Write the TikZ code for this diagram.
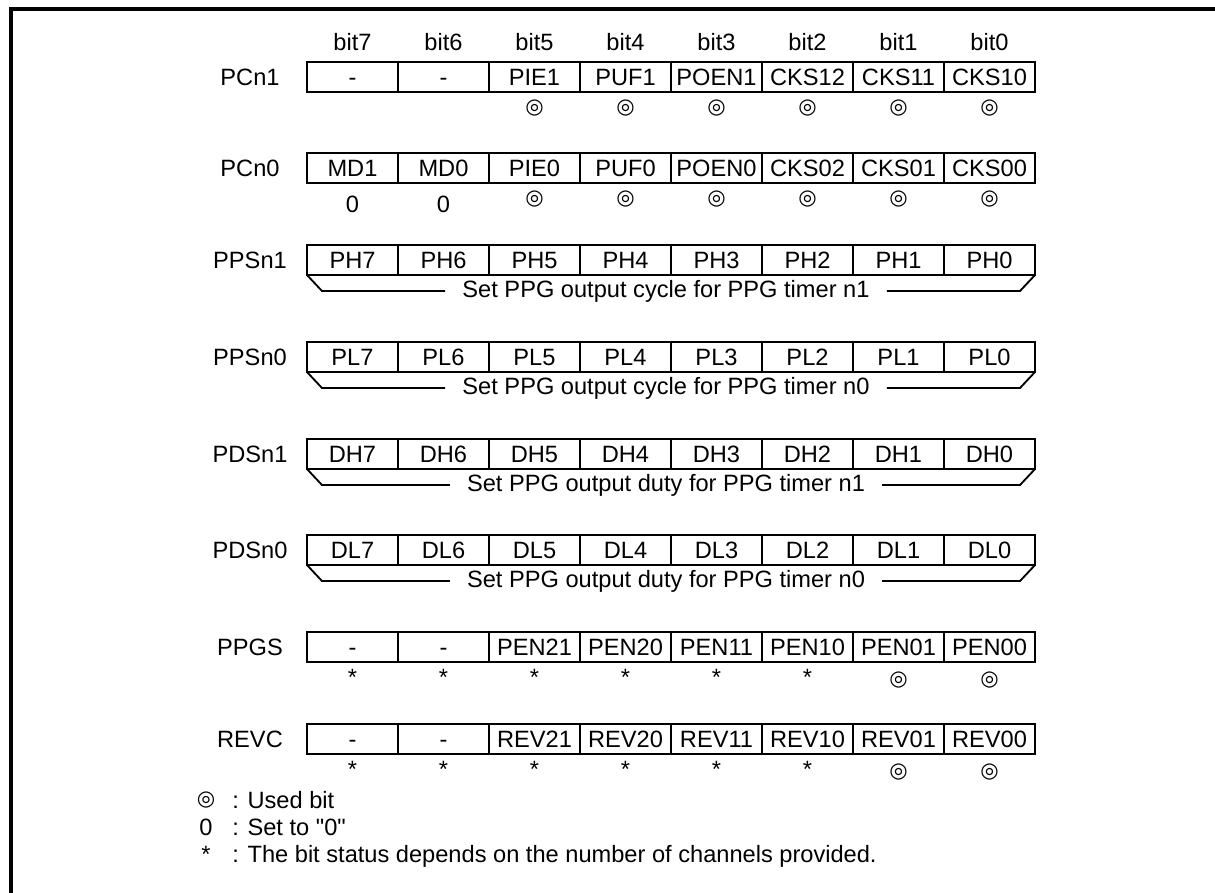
\documentclass[tikz,border=0pt]{standalone}
\usepackage{fontspec}
\setmainfont{Liberation Sans}[Ligatures=TeXOff]
\newfontfamily\symfont{DejaVu Sans}
\newcommand{\usedbit}{{\symfont\fontsize{15}{15}\selectfont ◎}}
\begin{document}
\begin{tikzpicture}[x=0.025cm, y=-0.025cm, font=\fontsize{16.8}{20}\selectfont,
  bitcell/.style={draw, line width=1.8pt, minimum width=2.275cm, minimum height=0.75cm, inner sep=0pt, outer sep=0pt, text height=12pt, text depth=0pt},
  reglabel/.style={inner sep=0pt},
  bitmark/.style={inner sep=0pt},
  brace/.style={line width=1.3pt},
  bracetext/.style={inner xsep=0.425cm, inner ysep=0pt}]
\useasboundingbox (0,0) rectangle (1215,893);
\draw[line width=2.2pt] (11,893) -- (11,9) -- (1215,9);

% bit numbers
\foreach \b [count=\i] in {7,6,...,0}
  \node (bit\b) at (261.5+91*\i,42) {bit\b};

% PCn1
\node[reglabel] (pcn1) at (250,77) {PCn1};
\foreach \f [count=\i] in {-,-,PIE1,PUF1,POEN1,CKS12,CKS11,CKS10}
  \node[bitcell] (pcn1-\i) at (261.5+91*\i,77) {\f};
\foreach \i in {3,...,8}
  \node[bitmark] (pcn1m-\i) at (261.5+91*\i,108) {\usedbit};

% PCn0
\node[reglabel] (pcn0) at (250,168) {PCn0};
\foreach \f [count=\i] in {MD1,MD0,PIE0,PUF0,POEN0,CKS02,CKS01,CKS00}
  \node[bitcell] (pcn0-\i) at (261.5+91*\i,168) {\f};
\foreach \i in {1,2}
  \node[bitmark] (pcn0m-\i) at (261.5+91*\i,204) {0};
\foreach \i in {3,...,8}
  \node[bitmark] (pcn0m-\i) at (261.5+91*\i,199) {\usedbit};

% PPSn1
\node[reglabel] (ppsn1) at (250,260) {PPSn1};
\foreach \f [count=\i] in {PH7,PH6,PH5,PH4,PH3,PH2,PH1,PH0}
  \node[bitcell] (ppsn1-\i) at (261.5+91*\i,260) {\f};
\node[bracetext] (ppsn1t) at (666,291) {Set PPG output cycle for PPG timer n1};
\draw[brace] (ppsn1-1.south west) -- ++(15,16) -- (ppsn1t.west);
\draw[brace] (ppsn1-8.south east) -- ++(-15,16) -- (ppsn1t.east);

% PPSn0
\node[reglabel] (ppsn0) at (250,357) {PPSn0};
\foreach \f [count=\i] in {PL7,PL6,PL5,PL4,PL3,PL2,PL1,PL0}
  \node[bitcell] (ppsn0-\i) at (261.5+91*\i,357) {\f};
\node[bracetext] (ppsn0t) at (666,388) {Set PPG output cycle for PPG timer n0};
\draw[brace] (ppsn0-1.south west) -- ++(15,16) -- (ppsn0t.west);
\draw[brace] (ppsn0-8.south east) -- ++(-15,16) -- (ppsn0t.east);

% PDSn1
\node[reglabel] (pdsn1) at (250,454) {PDSn1};
\foreach \f [count=\i] in {DH7,DH6,DH5,DH4,DH3,DH2,DH1,DH0}
  \node[bitcell] (pdsn1-\i) at (261.5+91*\i,454) {\f};
\node[bracetext] (pdsn1t) at (666,485) {Set PPG output duty for PPG timer n1};
\draw[brace] (pdsn1-1.south west) -- ++(15,16) -- (pdsn1t.west);
\draw[brace] (pdsn1-8.south east) -- ++(-15,16) -- (pdsn1t.east);

% PDSn0
\node[reglabel] (pdsn0) at (250,550) {PDSn0};
\foreach \f [count=\i] in {DL7,DL6,DL5,DL4,DL3,DL2,DL1,DL0}
  \node[bitcell] (pdsn0-\i) at (261.5+91*\i,550) {\f};
\node[bracetext] (pdsn0t) at (666,581) {Set PPG output duty for PPG timer n0};
\draw[brace] (pdsn0-1.south west) -- ++(15,16) -- (pdsn0t.west);
\draw[brace] (pdsn0-8.south east) -- ++(-15,16) -- (pdsn0t.east);

% PPGS
\node[reglabel] (ppgs) at (250,647) {PPGS};
\foreach \f [count=\i] in {-,-,PEN21,PEN20,PEN11,PEN10,PEN01,PEN00}
  \node[bitcell] (ppgs-\i) at (261.5+91*\i,647) {\f};
\foreach \i in {1,...,6}
  \node[bitmark] (ppgsm-\i) at (261.5+91*\i,677) {*};
\foreach \i in {7,8}
  \node[bitmark] (ppgsm-\i) at (261.5+91*\i,680) {\usedbit};

% REVC
\node[reglabel] (revc) at (250,739) {REVC};
\foreach \f [count=\i] in {-,-,REV21,REV20,REV11,REV10,REV01,REV00}
  \node[bitcell] (revc-\i) at (261.5+91*\i,739) {\f};
\foreach \i in {1,...,6}
  \node[bitmark] (revcm-\i) at (261.5+91*\i,769) {*};
\foreach \i in {7,8}
  \node[bitmark] (revcm-\i) at (261.5+91*\i,772) {\usedbit};

% legend
\node[bitmark] (lgus) at (206,800) {\usedbit};
\node[anchor=base west, inner sep=0pt] (lgut) at (232,808) {: Used bit};
\node[anchor=base, inner sep=0pt] (lgzs) at (206,835) {0};
\node[anchor=base west, inner sep=0pt] (lgzt) at (232,835) {: Set to "0"};
\node[anchor=base, inner sep=0pt] (lgas) at (206,862) {*};
\node[anchor=base west, inner sep=0pt] (lgat) at (232,862) {: The bit status depends on the number of channels provided.};
\end{tikzpicture}
\end{document}
